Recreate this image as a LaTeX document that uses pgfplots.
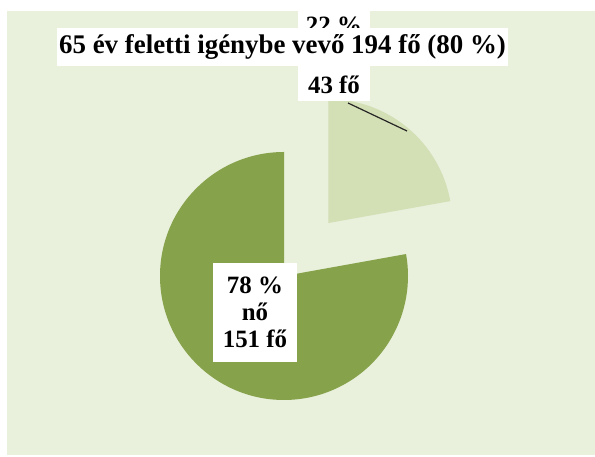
\documentclass[border=0pt]{standalone}
\usepackage{pgfplots}
\pgfplotsset{compat=1.18}
\usepackage{pgfplotstable}
\usepackage{fontspec}
\setmainfont{Liberation Serif}
\definecolor{bg}{HTML}{E9F0DC}
\definecolor{darkslice}{HTML}{86A34B}
\definecolor{lightslice}{HTML}{D3DFB5}
\pgfplotstableread{
label value
no 151
ferfi 43
}\piedata
\begin{document}%
\begin{tikzpicture}
\pgfplotstablegetelem{0}{value}\of\piedata\edef\vA{\pgfplotsretval}
\pgfplotstablegetelem{1}{value}\of\piedata\edef\vB{\pgfplotsretval}
\pgfmathsetmacro\tot{\vA+\vB}
\pgfmathsetmacro\angA{360*(\vA/\tot)}
\pgfmathsetmacro\angB{360*(\vB/\tot)}
\pgfmathsetmacro\startL{90-\angB}
\pgfmathsetmacro\endD{90+\angA}
\pgfmathsetmacro\midL{90-\angB/2}
\pgfmathsetmacro\cxL{284+69*cos(\midL)}
\pgfmathsetmacro\cyL{181+69*sin(\midL)}
\begin{axis}[x=1bp,y=1bp,xmin=0,xmax=595,ymin=0,ymax=457,hide axis,scale only axis,clip=false]
\coordinate (ll) at (0,0);
\coordinate (ur) at (595,457);
\fill[white] (0,0) rectangle (595,457);
\fill[bg] (7,2) rectangle (595,446);
% dark slice (no)
\fill[darkslice] (284,181) -- +(90:124bp) arc[start angle=90, end angle=\endD, radius=124bp] -- cycle;
% light slice (ferfi), exploded
\fill[lightslice] (\cxL,\cyL) -- +(\startL:124bp) arc[start angle=\startL, end angle=90, radius=124bp] -- cycle;
% leader line
\draw[black!85, line width=1.2bp] (348,354) -- (407,326);
% light label
\fill[white] (298,356) rectangle (370,446);
\begin{scope}
\clip (0,0) rectangle (595,440);
\node[align=center, inner sep=0, font=\bfseries\fontsize{25}{30}\selectfont] at (334,402) {22 \%\\férfi\\43 fő};
\end{scope}
% dark label
\node[fill=white, minimum width=84bp, minimum height=99bp, inner sep=0, align=center, font=\bfseries\fontsize{25}{27}\selectfont] at (255,144.5) {78 \%\\nő\\151 fő};
% title
\node[fill=white, minimum width=451bp, minimum height=38bp, inner sep=0, font=\bfseries\fontsize{27}{30}\selectfont] at (282.5,410) {65 év feletti igénybe vevő 194 fő (80 \%)};
\end{axis}
\pgfresetboundingbox
\path[use as bounding box] (ll) rectangle (ur);
\end{tikzpicture}%
\end{document}
